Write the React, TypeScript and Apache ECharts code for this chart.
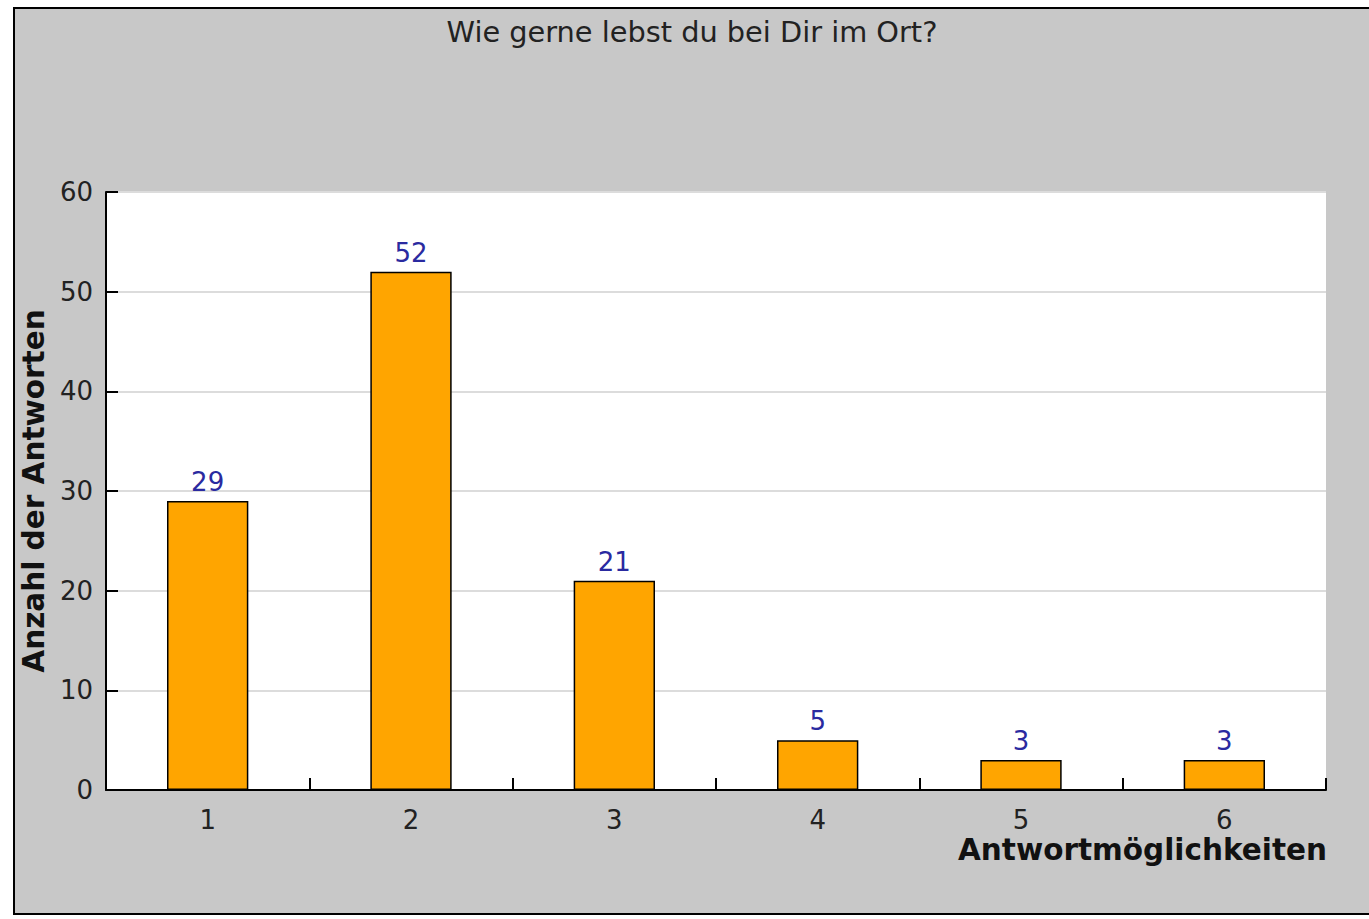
import React, { useEffect, useRef } from "react";
import * as echarts from "echarts";

const categories = ["1", "2", "3", "4", "5", "6"];
const values = [29, 52, 21, 5, 3, 3];
const yTicks = { min: 0, max: 60, interval: 10 };
const titleText = "Wie gerne lebst du bei Dir im Ort?";
const xName = "Antwortmöglichkeiten";
const yName = "Anzahl der Antworten";

export default function App() {
  const ref = useRef<HTMLDivElement>(null);
  useEffect(() => {
    if (!ref.current) return;
    const chart = echarts.init(ref.current, undefined, { renderer: "svg" });
    const font = "DejaVu Sans";
    chart.setOption({
      animation: false,
      backgroundColor: "#ffffff",
      textStyle: { fontFamily: font },
      graphic: [
        {
          type: "rect",
          z: -10,
          silent: true,
          shape: { x: 14, y: 8, width: 1400, height: 906 },
          style: { fill: "#c8c8c8", stroke: "#000", lineWidth: 2 },
        },
        {
          type: "text",
          x: 1327,
          y: 850,
          style: {
            text: xName,
            fontFamily: font,
            fontSize: 29.5,
            fontWeight: "bold",
            fill: "#111",
            align: "right",
            verticalAlign: "middle",
          },
        },
        {
          type: "text",
          x: 692,
          y: 32,
          style: {
            text: titleText,
            fontFamily: font,
            fontSize: 28.8,
            fill: "#222",
            align: "center",
            verticalAlign: "middle",
          },
        },
      ],
      grid: {
        left: 106,
        top: 192,
        right: 43,
        bottom: 129,
        show: true,
        backgroundColor: "#ffffff",
        borderWidth: 0,
      },
      xAxis: {
        type: "category",
        data: categories,
        axisLine: { lineStyle: { color: "#000", width: 2 } },
        axisTick: { show: true, inside: true, length: 12, lineStyle: { color: "#000", width: 2 } },
        axisLabel: { fontSize: 26, color: "#222", margin: 17, fontFamily: font },
      },
      yAxis: {
        type: "value",
        min: yTicks.min,
        max: yTicks.max,
        interval: yTicks.interval,
        name: yName,
        nameLocation: "middle",
        nameGap: 50,
        nameTextStyle: { fontSize: 29.5, fontWeight: "bold", color: "#111", fontFamily: font },
        axisLine: { show: true, lineStyle: { color: "#000", width: 2 } },
        axisTick: { show: true, inside: true, length: 12, lineStyle: { color: "#000", width: 2 } },
        axisLabel: { fontSize: 26, color: "#222", margin: 13, fontFamily: font },
        splitLine: { show: true, lineStyle: { color: "#dcdcdc", width: 2 } },
      },
      series: [
        {
          type: "bar",
          data: values,
          barWidth: "40%",
          itemStyle: { color: "#ffa500", borderColor: "#000", borderWidth: 1.5 },
          label: {
            show: true,
            position: "top",
            distance: 6,
            fontSize: 26,
            color: "#2a2aa0",
            fontFamily: font,
          },
        },
      ],
    });
    return () => chart.dispose();
  }, []);
  return (
    <div
      ref={ref}
      style={{ position: "absolute", left: 0, top: 0, width: 1369, height: 919 }}
    />
  );
}
